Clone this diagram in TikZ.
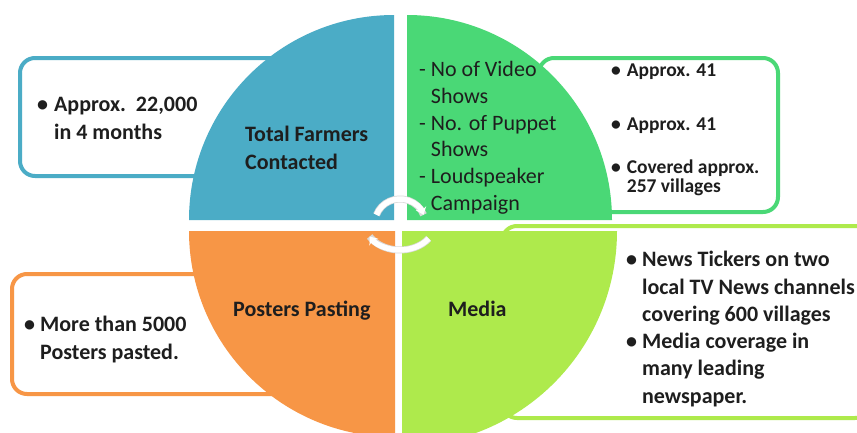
\documentclass[tikz,border=0pt]{standalone}
\usepackage{fontspec}
\setmainfont{Carlito}
\usetikzlibrary{arrows.meta}
\definecolor{cblue}{HTML}{4BACC6}
\definecolor{cgreen}{HTML}{4AD876}
\definecolor{corange}{HTML}{F79646}
\definecolor{clime}{HTML}{AEEA4C}
\definecolor{ctext}{HTML}{1E1E1E}
\begin{document}
\begin{tikzpicture}[x=1pt,y=-1pt,
  infobox/.style={line width=4pt, rounded corners=15pt, fill=white},
  txt/.style={anchor=base west, inner sep=0pt, text=ctext, font=\fontsize{22}{27.3}\selectfont\bfseries},
  txtreg/.style={anchor=base west, inner sep=0pt, text=ctext, font=\fontsize{22}{26.7}\selectfont},
  txtsm/.style={anchor=base west, inner sep=0pt, text=ctext, font=\fontsize{19.5}{17}\selectfont\bfseries},
  cyc/.style={white, line width=5.5pt},
  cycshadow/.style={gray!30, line width=7pt}
]
\useasboundingbox (0,0) rectangle (857,432);
\clip (0,0) rectangle (857,432);
\fill[white] (0,0) rectangle (857,432);

% info boxes
\draw[infobox, draw=cblue] (20,58) rectangle (300,176);
\draw[infobox, draw=cgreen] (539,58) rectangle (778,212);
\draw[infobox, draw=clime] (502,226) rectangle (870,418);
\draw[infobox, draw=corange] (12,274) rectangle (320,394);

% quadrants
\fill[cblue] (394,220) -- ++(-205,0) arc[start angle=180, end angle=270, radius=205] -- cycle;
\fill[cgreen] (407,220) -- ++(205,0) arc[start angle=0, end angle=-90, radius=205] -- cycle;
\fill[corange] (395,231) -- ++(-206,0) arc[start angle=180, end angle=90, radius=206] -- cycle;
\fill[clime] (402,231) -- ++(215,0) arc[start angle=0, end angle=90, radius=215] -- cycle;

% circular arrows in the centre
\coordinate (cc) at (400,223);
\draw[cycshadow] ([shift={(200:25 and 24)}]cc) arc[start angle=200, end angle=340, x radius=25, y radius=24];
\draw[cyc, -{Stealth[length=7pt,width=11pt]}] ([shift={(200:25 and 24)}]cc) arc[start angle=200, end angle=340, x radius=25, y radius=24];
\draw[cycshadow] ([shift={(35:35 and 27)}]cc) arc[start angle=35, end angle=150, x radius=35, y radius=27];
\draw[cyc, -{Stealth[length=7pt,width=11pt]}] ([shift={(35:35 and 27)}]cc) arc[start angle=35, end angle=150, x radius=35, y radius=27];

% centre labels
\node[txt] (tfc) at (245,141.7) {\begin{tabular}[t]{@{}l@{}}Total Farmers\\Contacted\end{tabular}};
\node[txt] (pp) at (233,316.7) {Posters Pasting};
\node[txt] (media) at (448,316.7) {Media};

% green quadrant list
\node[txtreg] (vid) at (419,76.7) {\begin{tabular}[t]{@{}l@{\hspace{5pt}}l@{}}
- & No of Video\\
  & Shows\\
- & No. of Puppet\\
  & Shows\\
- & Loudspeaker\\
  & Campaign
\end{tabular}};

% blue box
\node[txt] (bt) at (37,111.7) {\begin{tabular}[t]{@{}l@{\hspace{6pt}}l@{}}
\textbullet & Approx.\ \ 22,000\\
 & in 4 months
\end{tabular}};

% green box
\node[txtsm] (g1) at (611,76.7) {\textbullet\hspace{6pt}Approx. 41};
\node[txtsm] (g2) at (611,130) {\textbullet\hspace{6pt}Approx. 41};
\node[txtsm] (g3) at (611,173.3) {\begin{tabular}[t]{@{}l@{\hspace{6pt}}l@{}}
\textbullet & Covered approx.\\
 & 257 villages
\end{tabular}};

% orange box
\node[txt] (ot) at (24,331.7) {\begin{tabular}[t]{@{}l@{\hspace{5pt}}l@{}}
\textbullet & More than 5000\\
 & Posters pasted.
\end{tabular}};

% lime box
\node[txt] (lt) at (626,266.7) {\begin{tabular}[t]{@{}l@{\hspace{5pt}}l@{}}
\textbullet & News Tickers on two\\
 & local TV News channels\\
 & covering 600 villages\\
\textbullet & Media coverage in\\
 & many leading\\
 & newspaper.
\end{tabular}};
\end{tikzpicture}
\end{document}
